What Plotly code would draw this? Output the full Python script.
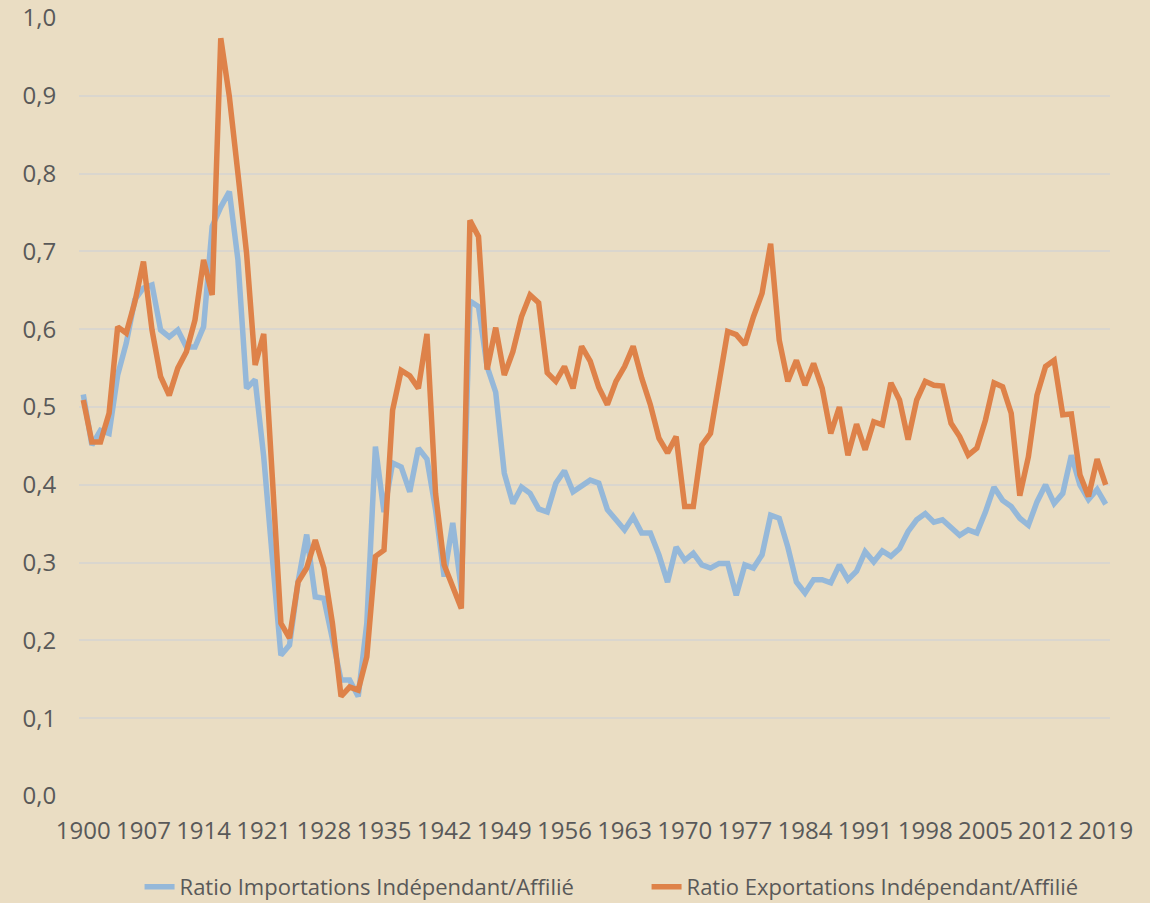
import plotly.graph_objects as go

years = list(range(1900, 2020))

imports_ratio = [
    0.516, 0.451, 0.470, 0.466, 0.541, 0.582, 0.638, 0.653, 0.657, 0.599,
    0.590, 0.599, 0.577, 0.577, 0.603, 0.732, 0.757, 0.777, 0.689, 0.524,
    0.535, 0.436, 0.307, 0.181, 0.194, 0.275, 0.336, 0.256, 0.254, 0.204,
    0.149, 0.149, 0.128, 0.222, 0.449, 0.365, 0.428, 0.423, 0.391, 0.447,
    0.433, 0.368, 0.282, 0.351, 0.265, 0.636, 0.629, 0.552, 0.519, 0.415,
    0.376, 0.397, 0.389, 0.369, 0.365, 0.402, 0.418, 0.391, 0.398, 0.406,
    0.402, 0.368, 0.355, 0.342, 0.359, 0.338, 0.338, 0.310, 0.275, 0.320,
    0.303, 0.312, 0.297, 0.293, 0.299, 0.299, 0.258, 0.297, 0.293, 0.310,
    0.361, 0.357, 0.320, 0.275, 0.261, 0.278, 0.278, 0.274, 0.297, 0.278,
    0.289, 0.314, 0.301, 0.315, 0.308, 0.318, 0.340, 0.355, 0.363, 0.352,
    0.355, 0.344, 0.335, 0.342, 0.338, 0.365, 0.397, 0.380, 0.372, 0.357,
    0.348, 0.378, 0.400, 0.376, 0.389, 0.438, 0.400, 0.381, 0.394, 0.375,
]

exports_ratio = [
    0.509, 0.455, 0.455, 0.492, 0.603, 0.595, 0.635, 0.687, 0.599, 0.539,
    0.515, 0.550, 0.571, 0.612, 0.689, 0.644, 0.974, 0.899, 0.800, 0.698,
    0.554, 0.594, 0.410, 0.222, 0.203, 0.275, 0.293, 0.329, 0.293, 0.222,
    0.128, 0.140, 0.136, 0.179, 0.308, 0.316, 0.496, 0.547, 0.540, 0.524,
    0.594, 0.389, 0.297, 0.269, 0.241, 0.740, 0.719, 0.548, 0.602, 0.541,
    0.571, 0.616, 0.644, 0.634, 0.544, 0.533, 0.552, 0.524, 0.578, 0.559,
    0.525, 0.503, 0.533, 0.552, 0.578, 0.537, 0.503, 0.460, 0.441, 0.462,
    0.372, 0.372, 0.451, 0.466, 0.533, 0.597, 0.593, 0.580, 0.616, 0.646,
    0.710, 0.586, 0.533, 0.560, 0.528, 0.556, 0.524, 0.466, 0.500, 0.438,
    0.478, 0.445, 0.481, 0.477, 0.531, 0.509, 0.458, 0.509, 0.533, 0.528,
    0.527, 0.479, 0.462, 0.438, 0.447, 0.483, 0.531, 0.526, 0.492, 0.386,
    0.436, 0.515, 0.552, 0.560, 0.490, 0.491, 0.413, 0.385, 0.433, 0.400,
]

x_tick_years = list(range(1900, 2020, 7))
y_ticks = [0.0, 0.1, 0.2, 0.3, 0.4, 0.5, 0.6, 0.7, 0.8, 0.9, 1.0]

names = [
    "Ratio Importations Indépendant/Affilié",
    "Ratio Exportations Indépendant/Affilié",
]

BG = "#EADDC3"
TEXT = "#595959"
GRID = "#DAD6CE"

fig = go.Figure()
fig.add_trace(go.Scatter(
    x=years, y=imports_ratio, mode="lines", name=names[0],
    line=dict(color="#95B8D9", width=5.5),
))
fig.add_trace(go.Scatter(
    x=years, y=exports_ratio, mode="lines", name=names[1],
    line=dict(color="#DE8249", width=5.5),
))

fig.update_layout(
    width=1150, height=903,
    paper_bgcolor=BG, plot_bgcolor=BG,
    margin=dict(l=79, r=40, t=18, b=107, autoexpand=False),
    separators=", ",
    font=dict(family="Open Sans", color=TEXT, size=22),
    showlegend=True,
    legend=dict(
        orientation="h", xref="paper", x=0.5505, xanchor="center",
        yref="container", y=(903 - 887) / 903, yanchor="middle",
        font=dict(size=22, color=TEXT), bgcolor="rgba(0,0,0,0)",
        entrywidth=462, entrywidthmode="pixels",
    ),
    xaxis=dict(
        range=[1899.5, 2019.5], tickmode="array", tickvals=x_tick_years,
        ticktext=[str(v) for v in x_tick_years],
        showgrid=False, zeroline=False, showline=False, automargin=False,
        ticks="outside", ticklen=13, tickcolor="rgba(0,0,0,0)",
        tickfont=dict(size=24, color=TEXT),
    ),
    yaxis=dict(
        range=[0, 1.0], tickmode="array", tickvals=y_ticks,
        tickformat=".1f", automargin=False,
        showgrid=True, gridcolor=GRID, gridwidth=2,
        zeroline=False, showline=False,
        ticks="outside", ticklen=17, tickcolor="rgba(0,0,0,0)",
        tickfont=dict(size=24, color=TEXT),
    ),
)

fig.write_html(
    "out.html",
    config={"displayModeBar": False},
    post_script="document.body.style.margin='0';document.body.style.overflow='hidden';",
)
